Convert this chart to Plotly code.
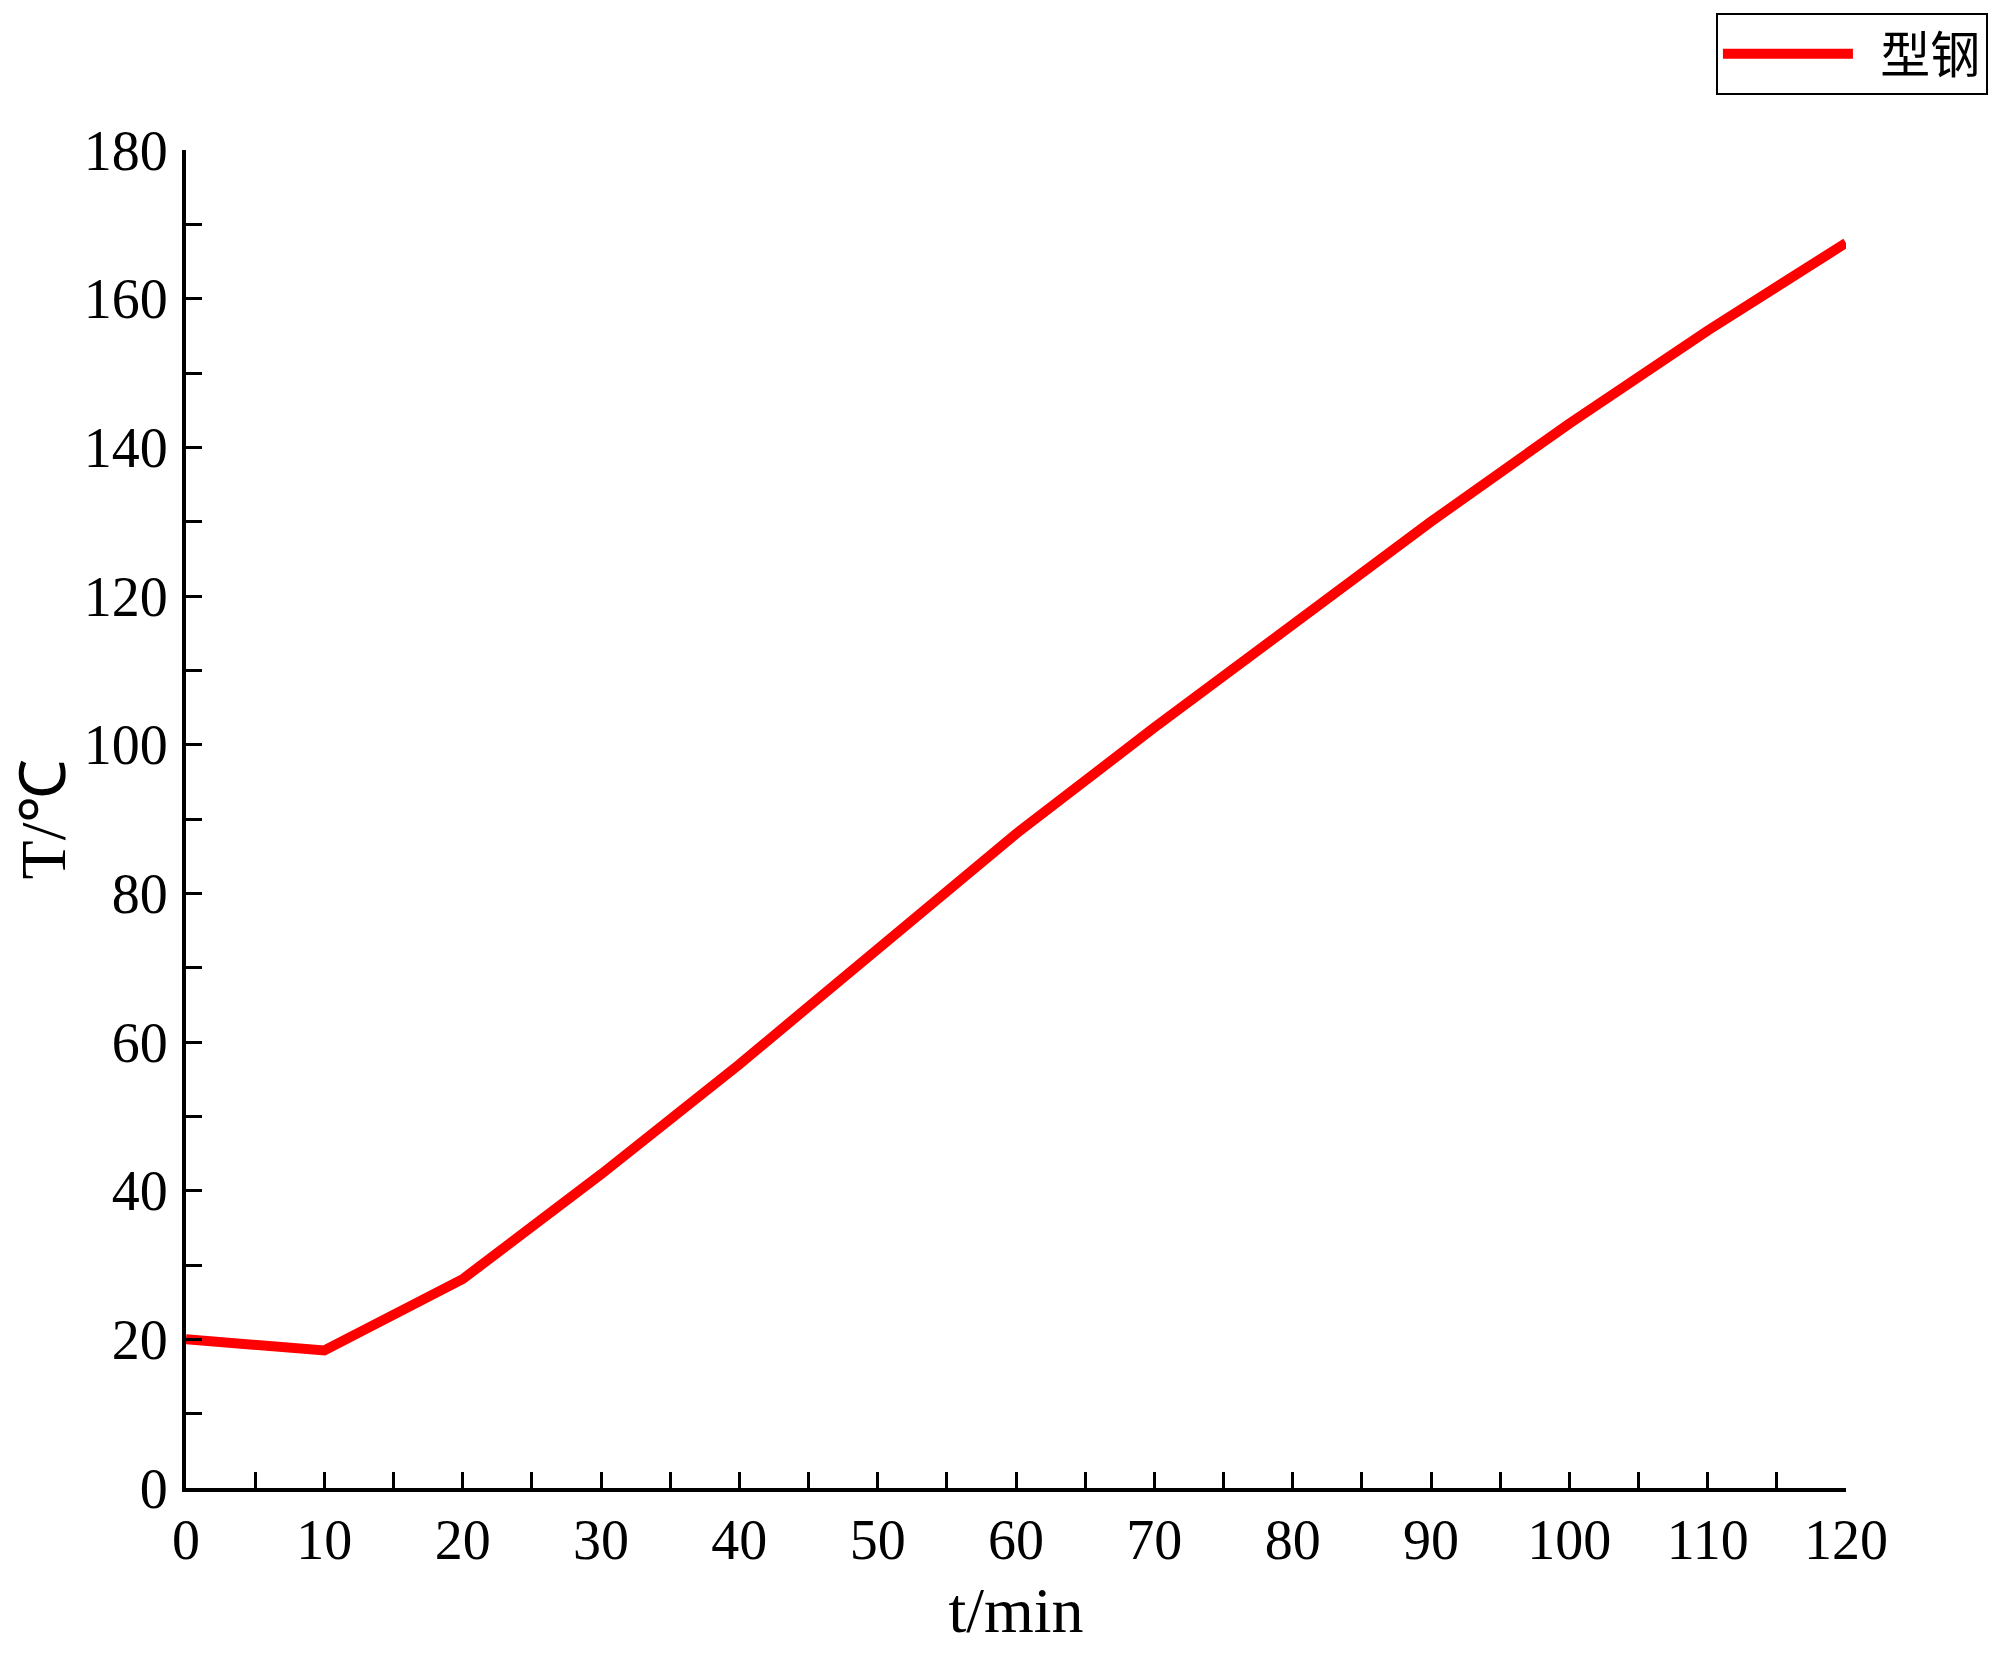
import plotly.graph_objects as go

# time (min) and temperature of the steel section
t_min = [0, 10, 20, 30, 40, 50, 60, 70, 80, 90, 100, 110, 120]
temp_steel = [20.0, 18.5, 28.1, 42.2, 57.0, 72.6, 88.0, 102.3, 116.2, 130.0, 143.2, 155.7, 167.5]

x_ticks = list(range(0, 121, 10))
y_ticks = list(range(0, 181, 20))

num_font = dict(family="Liberation Serif", size=56, color="black")
title_font = dict(family="Liberation Serif", size=64, color="black")

fig = go.Figure()
fig.add_trace(go.Scatter(x=t_min, y=temp_steel, mode="lines", name="\u00a0\u00a0型钢",
                         line=dict(color="#ff0000", width=10)))

# page has an 8px body margin, so the figure is a little smaller than the window
fig.update_layout(
    width=1984, height=1639,
    margin=dict(l=178, r=146, t=142, b=159, autoexpand=False),
    paper_bgcolor="white", plot_bgcolor="white",
    showlegend=True,
    legend=dict(x=1.0855, y=1.1025, xanchor="right", yanchor="top",
                bordercolor="black", borderwidth=2, bgcolor="white",
                itemwidth=130,
                font=dict(family="Noto Sans CJK SC", size=50, color="black")),
)

fig.update_xaxes(
    range=[0, 120], tickvals=x_ticks, showgrid=False, zeroline=False,
    showline=True, linecolor="black", linewidth=4, automargin=False,
    ticks="inside", ticklen=16, tickwidth=3, tickcolor="black",
    minor=dict(dtick=5, ticks="inside", ticklen=16, tickwidth=3, tickcolor="black", showgrid=False),
    tickfont=num_font, ticklabelstandoff=0,
    title=dict(text="t/min", font=title_font, standoff=18),
)
fig.update_yaxes(
    range=[0, 180], tickvals=y_ticks, showgrid=False, zeroline=False,
    showline=True, linecolor="black", linewidth=4, automargin=False,
    ticks="inside", ticklen=16, tickwidth=3, tickcolor="black",
    minor=dict(dtick=10, ticks="inside", ticklen=16, tickwidth=3, tickcolor="black", showgrid=False),
    tickfont=num_font, ticklabelstandoff=3,
    title=dict(text="T/℃", font=title_font, standoff=22),
)

fig.write_html("out.html")
